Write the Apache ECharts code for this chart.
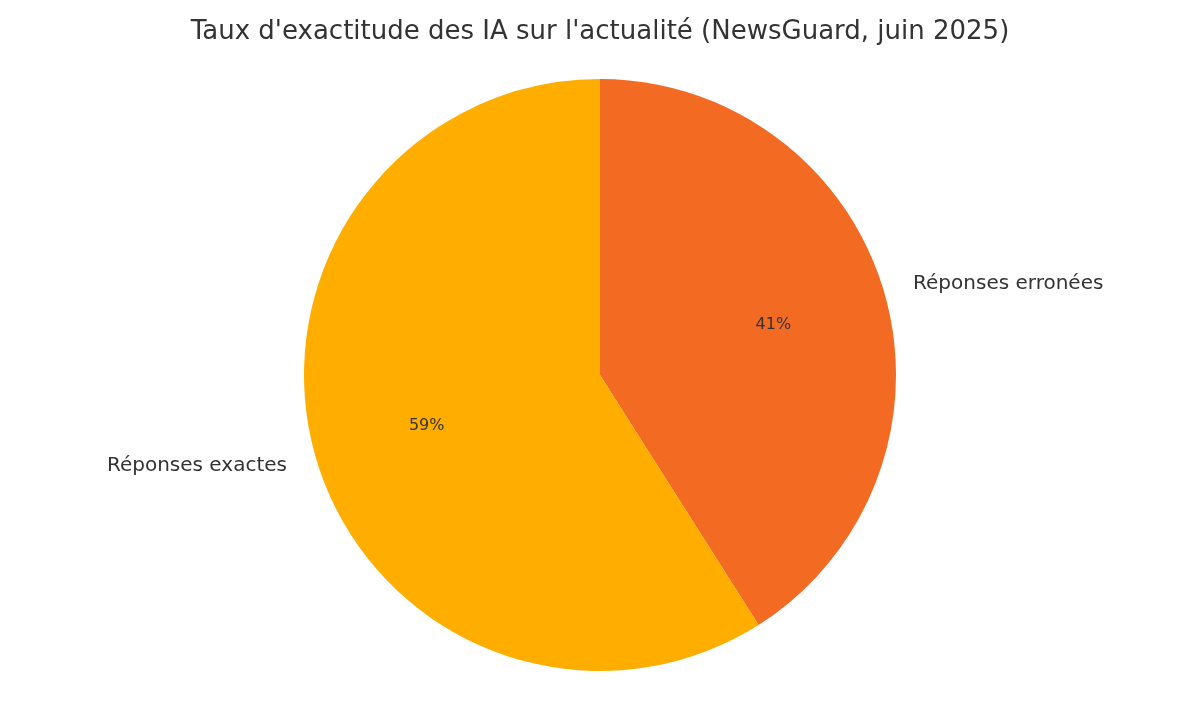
<!DOCTYPE html>
<html><head><meta charset="utf-8">
<script src="https://cdn.jsdelivr.net/npm/echarts@6/dist/echarts.min.js"></script>
<style>html,body{margin:0;padding:0;background:#fff}#c{width:1200px;height:720px}</style>
</head><body><div id="c"></div>
<script>
const categories = ["Réponses erronées", "Réponses exactes"];
const values = [41, 59];
const colors = ["#F36A22", "#FFAE00"];
const font = "DejaVu Sans";
const chart = echarts.init(document.getElementById('c'));
const data = categories.map((n, i) => ({ name: n, value: values[i], itemStyle: { color: colors[i] } }));
chart.setOption({
  animation: false,
  title: { text: "Taux d'exactitude des IA sur l'actualité (NewsGuard, juin 2025)", left: 'center', top: 14,
    textStyle: { fontFamily: font, fontSize: 26, fontWeight: 'normal', color: '#333' } },
  series: [
    { type: 'pie', center: [600, 375], radius: [0, 296], startAngle: 90, clockwise: true, silent: true,
      data: data,
      label: { show: true, position: 'outside', formatter: '{b}', fontFamily: font, fontSize: 20, color: '#333', distanceToLabelLine: 0 },
      labelLine: { show: false, length: 30, length2: 0 } },
    { type: 'pie', center: [600, 375], radius: [0, 355], startAngle: 90, clockwise: true, silent: true, z: 5,
      data: categories.map((n, i) => ({ name: n, value: values[i] })),
      itemStyle: { color: 'rgba(0,0,0,0)' },
      label: { show: true, position: 'inside', formatter: '{c}%', fontFamily: font, fontSize: 16, color: '#333' },
      labelLine: { show: false } }
  ]
});
</script></body></html>
